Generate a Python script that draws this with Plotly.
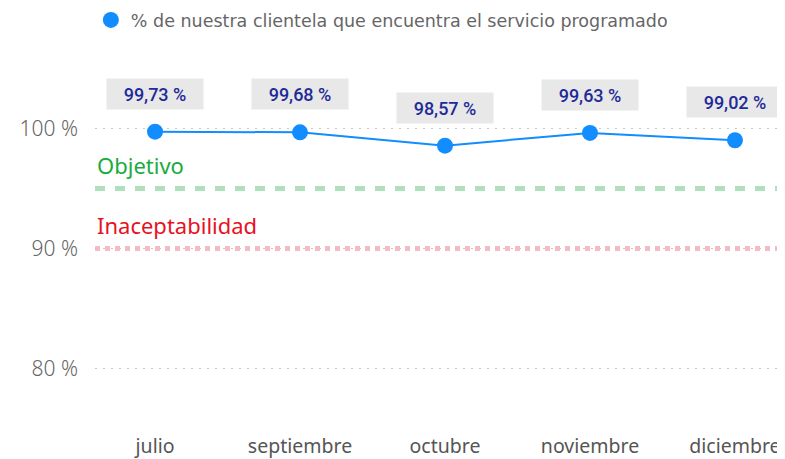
import plotly.graph_objects as go

# datos
meses = ["julio", "septiembre", "octubre", "noviembre", "diciembre"]
valores = [99.73, 99.68, 98.57, 99.63, 99.02]
etiquetas = ["99,73 %", "99,68 %", "98,57 %", "99,63 %", "99,02 %"]
objetivo = 95
inaceptable = 90
ticks_y = [80, 90, 100]
ticks_y_txt = ["80 %", "90 %", "100 %"]
serie = "% de nuestra clientela que encuentra el servicio programado"

azul = "#118DFF"

fig = go.Figure()

# linea sin leyenda, puntos con leyenda (asi la leyenda muestra solo el circulo)
fig.add_trace(go.Scatter(
    x=meses, y=valores, mode="lines", showlegend=False,
    line=dict(color=azul, width=2), hoverinfo="skip",
))
fig.add_trace(go.Scatter(
    x=meses, y=valores, mode="markers", name=serie,
    marker=dict(color=azul, size=16),
))

# lineas de referencia
fig.add_shape(type="line", xref="paper", x0=0, x1=1, y0=objetivo, y1=objetivo,
              line=dict(color="#B0DFBC", width=5, dash="10px,10px"), layer="below")
fig.add_shape(type="line", xref="paper", x0=0, x1=1, y0=inaceptable, y1=inaceptable,
              line=dict(color="#F7BBC6", width=5, dash="5px,5px"), layer="below")

fig.add_annotation(x=0, xref="paper", xanchor="left", y=objetivo, yshift=24,
                   text="Objetivo", showarrow=False,
                   font=dict(family="Noto Sans", size=22, color="#1AAB40"))
fig.add_annotation(x=0, xref="paper", xanchor="left", y=inaceptable, yshift=24,
                   text="Inaceptabilidad", showarrow=False,
                   font=dict(family="Noto Sans", size=22, color="#E81123"))

# etiquetas de datos
for m, v, t in zip(meses, valores, etiquetas):
    fig.add_annotation(x=m, y=v, yshift=38, text=t, showarrow=False,
                       bgcolor="#E8E8E8", borderpad=5, width=86, height=20,
                       font=dict(family="Roboto", size=18, weight=500, color="#1F2A99"))

# la pagina tiene 8px de margen en el body: figura algo mas pequena
fig.update_layout(
    width=777, height=451,
    margin=dict(l=87, r=0, t=52, b=27, autoexpand=False),
    paper_bgcolor="white", plot_bgcolor="white",
    font=dict(family="Noto Sans", color="#666666"),
    showlegend=True,
    legend=dict(orientation="h", x=-0.006, xanchor="left",
                yref="container", y=1 - 12 / 451, yanchor="middle",
                font=dict(family="DejaVu Sans", size=17.5, color="#666666"),
                itemsizing="trace"),
)

fig.update_xaxes(range=[-0.414, 4.345], showgrid=False, showline=False, zeroline=False,
                 automargin=False, ticklabelstandoff=0,
                 tickfont=dict(size=19.5, color="#555555"), ticks="")
fig.update_yaxes(range=[74.73, 105.7], tickvals=ticks_y, ticktext=ticks_y_txt,
                 showgrid=True, gridcolor="#C8C8C8", griddash="2px,6px", gridwidth=1,
                 zeroline=False, showline=False, ticklabelstandoff=16, automargin=False,
                 tickfont=dict(size=21, weight=300, color="#666666"))

fig.write_html("out.html")
